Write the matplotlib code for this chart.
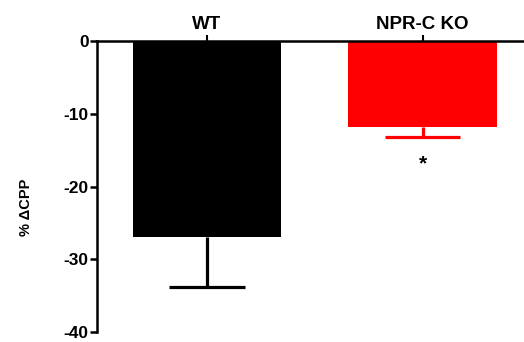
import matplotlib
matplotlib.use("Agg")
import matplotlib.pyplot as plt

# data
groups = ["WT", "NPR-C KO"]
means = [-27.0, -11.8]
sem = [6.8, 1.4]
bar_colors = ["#000000", "#ff0000"]
yticks = [0, -10, -20, -30, -40]

plt.rcParams["font.family"] = ["Liberation Sans", "DejaVu Sans"]
plt.rcParams["font.weight"] = "bold"

fig = plt.figure(figsize=(5.24, 3.42), dpi=100)
ax = fig.add_axes([0.185, 0.029, 0.815, 0.851])

x = list(range(len(groups)))
ax.bar(x, means, width=0.69, color=bar_colors, zorder=2)
# lower-only error bars (stem + single cap)
cap_half = 0.175
for xi, m, e, c in zip(x, means, sem, bar_colors):
    ax.vlines(xi, m - e, m, colors=c, linewidth=2.3, zorder=1)
    ax.hlines(m - e, xi - cap_half, xi + cap_half, colors=c, linewidth=2.3, zorder=1)

# significance marker
ax.text(1, -16.9, "*", ha="center", va="center", fontsize=15, fontweight="bold")

ax.set_xlim(-0.51, 1.47)
ax.set_ylim(-40, 0)
ax.set_yticks(yticks)
ax.set_yticklabels([str(t) for t in yticks], fontsize=12.5, fontweight="bold")
ax.set_xticks(x)
ax.set_xticklabels(groups, fontsize=13.5, fontweight="bold")
ax.xaxis.tick_top()
ax.tick_params(axis="x", length=4, width=1.5, pad=2)
ax.tick_params(axis="y", length=5, width=1.8, pad=1)
ax.set_ylabel("% \u0394CPP", fontsize=10.5, fontweight="bold")
ax.yaxis.set_label_coords(-0.15, 0.43)

ax.spines["bottom"].set_visible(False)
ax.spines["right"].set_visible(False)
ax.spines["left"].set_linewidth(1.8)
ax.spines["top"].set_linewidth(1.8)

fig.savefig("out.png", dpi=100)
